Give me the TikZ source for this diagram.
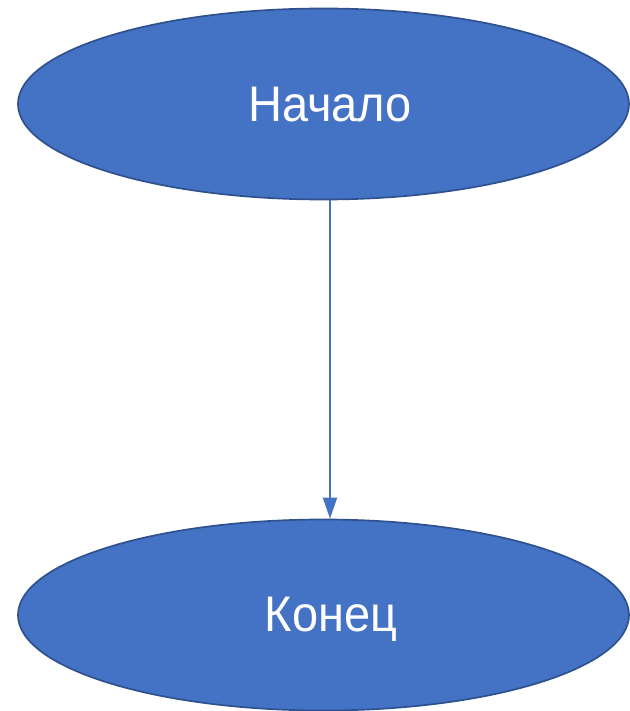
\documentclass[tikz,border=0pt]{standalone}
\usepackage{fontspec}
\setmainfont{Liberation Sans}
\newfontfamily\captionfont[FakeStretch=0.94]{Liberation Sans}
\usetikzlibrary{shapes.geometric,arrows.meta}
\definecolor{fillblue}{HTML}{4472C4}
\definecolor{edgeblue}{HTML}{2F528F}
\begin{document}
\begin{tikzpicture}[x=1pt,y=-1pt,
  term/.style={ellipse, fill=fillblue, draw=edgeblue, line width=1.7pt,
    inner sep=0pt, minimum width=611pt, minimum height=191pt},
  lbl/.style={text=white, anchor=base, inner sep=0pt,
    font=\captionfont\fontsize{50}{60}\selectfont},
  flow/.style={draw=fillblue, line width=2pt,
    -{Triangle[length=21pt,width=14pt]}}]
\useasboundingbox (0,0) rectangle (629,711);
% terminal shapes
\node[term] (start) at (323.5,104) {};
\node[term] (finish) at (323.5,615) {};
% their captions
\node[lbl] (startText) at (330,121.5) {Начало};
\node[lbl] (finishText) at (331,631) {Конец};
% flow line
\draw[flow] (start.south -| startText) -- (finish.north -| startText);
\end{tikzpicture}
\end{document}
